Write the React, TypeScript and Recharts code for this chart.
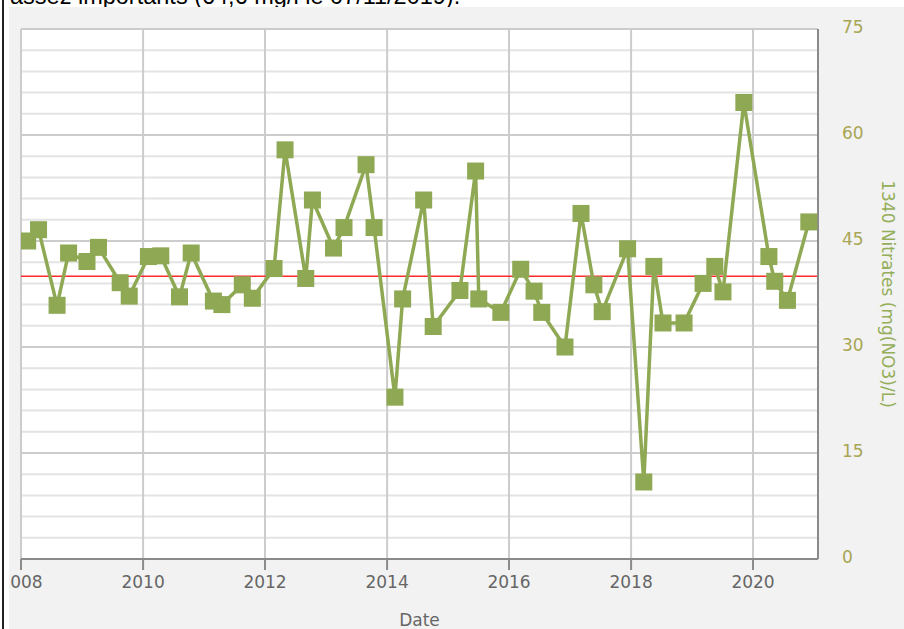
import React from 'react';
import { ComposedChart, Line, XAxis, YAxis, CartesianGrid, ReferenceLine } from 'recharts';

// Sampling dates and nitrate values (mg(NO3)/L)
const sampleDates = [
  '2008-02-10', '2008-04-15', '2008-08-04', '2008-10-12',
  '2009-01-30', '2009-04-09', '2009-08-17', '2009-10-10',
  '2010-02-02', '2010-04-17', '2010-08-07', '2010-10-16',
  '2011-02-26', '2011-04-18', '2011-08-18', '2011-10-17',
  '2012-02-24', '2012-04-30', '2012-09-01', '2012-10-11',
  '2013-02-14', '2013-04-18', '2013-08-28', '2013-10-15',
  '2014-02-17', '2014-04-04', '2014-08-08', '2014-10-04',
  '2015-03-13', '2015-06-15', '2015-07-04', '2015-11-13',
  '2016-03-11', '2016-05-30', '2016-07-15', '2016-12-01',
  '2017-03-07', '2017-05-23', '2017-07-12', '2017-12-11',
  '2018-03-18', '2018-05-17', '2018-07-11', '2018-11-14',
  '2019-03-08', '2019-05-17', '2019-07-05', '2019-11-07',
  '2020-04-05', '2020-05-10', '2020-07-25', '2020-11-30',
];

const nitrateValues = [
  45.0, 46.6, 35.9, 43.3,
  42.1, 44.1, 39.1, 37.2,
  42.8, 42.9, 37.1, 43.3,
  36.5, 36.0, 38.8, 36.9,
  41.1, 57.9, 39.7, 50.8,
  44.0, 46.9, 55.8, 46.9,
  22.9, 36.8, 50.8, 32.9,
  38.0, 54.9, 36.8, 34.9,
  41.0, 37.9, 34.9, 30.0,
  48.9, 38.8, 35.0, 43.9,
  10.9, 41.4, 33.4, 33.4,
  39.0, 41.4, 37.8, 64.6,
  42.8, 39.3, 36.6, 47.7,
];

const yMajorTicks = [0, 15, 30, 45, 60, 75];
const yMinorTicks = [3, 6, 9, 12, 18, 21, 24, 27, 33, 36, 39, 42, 48, 51, 54, 57, 63, 66, 69, 72];
const xTickYears = [2008, 2010, 2012, 2014, 2016, 2018, 2020];
const limitValue = 40;
const xDomainDates = ['2008-01-01', '2021-01-24'];

const headerText = 'assez importants (64,6 mg/l le 07/11/2019).';
const yTitle = '1340 Nitrates (mg(NO3)/L)';
const xTitle = 'Date';

const data = sampleDates.map((d, i) => ({ t: Date.parse(d), v: nitrateValues[i] }));
const xTicks = xTickYears.map((y) => Date.UTC(y, 0, 1));
const xDomain = xDomainDates.map((d) => Date.parse(d));

const SERIES = '#8ea853';
const FONT = 'DejaVu Sans';

const SquareDot = (props: any) => {
  const { cx, cy, key, index } = props;
  if (cx == null || cy == null) return <g key={key ?? index} />;
  const s = 17;
  return <rect key={key ?? `sq-${index}`} x={cx - s / 2} y={cy - s / 2} width={s} height={s} fill={SERIES} />;
};

const YTitleLabel = (props: any) => {
  const vb = props.viewBox || {};
  const cx = vb.x + vb.width - 16;
  const cy = vb.y + vb.height / 2;
  return (
    <text
      x={cx}
      y={cy}
      transform={`rotate(90, ${cx}, ${cy})`}
      textAnchor="middle"
      dominantBaseline="central"
      fill="#95ae5a"
      fontSize={17}
      fontFamily={FONT}
    >
      {yTitle}
    </text>
  );
};

export default function App() {
  return (
    <div style={{ position: 'absolute', left: 0, top: 0, width: 904, height: 629, overflow: 'hidden', background: '#fff' }}>
      <div
        style={{
          position: 'absolute',
          left: 10,
          top: -17,
          fontFamily: 'Liberation Sans, Arial, sans-serif',
          fontSize: 23.5,
          whiteSpace: 'nowrap',
          color: '#000',
        }}
      >
        {headerText}
      </div>
      <div style={{ position: 'absolute', left: 2, top: 0, width: 1.5, height: 629, background: '#222' }} />
      <div
        style={{
          position: 'absolute',
          left: 9,
          top: 7,
          width: 895,
          height: 622,
          overflow: 'hidden',
          background: '#f2f2f2',
        }}
      >
        <div style={{ position: 'absolute', left: -9, top: -7 }}>
          <ComposedChart width={904} height={629} data={data} margin={{ top: 29, right: 0, bottom: 0, left: 21 }}>
            <CartesianGrid
              fill="#ffffff"
              horizontalValues={yMinorTicks}
              vertical={false}
              stroke="#e3e3e3"
              strokeWidth={2}
            />
            <CartesianGrid
              horizontalValues={yMajorTicks}
              verticalValues={xTicks}
              stroke="#cccccc"
              strokeWidth={2}
            />
            <ReferenceLine y={limitValue} stroke="#ff2a2a" strokeWidth={1.5} />
            <XAxis
              dataKey="t"
              type="number"
              scale="time"
              domain={xDomain}
              allowDataOverflow
              ticks={xTicks}
              interval={0}
              tickFormatter={(t: number) => String(new Date(t).getUTCFullYear())}
              tick={{ fill: '#666666', fontSize: 17, fontFamily: FONT }}
              tickSize={11}
              tickMargin={6}
              tickLine={{ stroke: '#8a8a8a', strokeWidth: 2 }}
              axisLine={{ stroke: '#8a8a8a', strokeWidth: 2 }}
              height={70}
              label={{ value: xTitle, position: 'insideBottom', offset: 3, fill: '#666666', fontSize: 17, fontFamily: FONT }}
            />
            <YAxis
              orientation="right"
              type="number"
              domain={[0, 75]}
              ticks={yMajorTicks}
              interval={0}
              width={86}
              tickSize={6}
              tickLine={false}
              tickMargin={18}
              axisLine={{ stroke: '#8a8a8a', strokeWidth: 2 }}
              tick={{ fill: '#a8a553', fontSize: 17, fontFamily: FONT, textAnchor: 'start', dy: -2 }}
              label={<YTitleLabel />}
            />
            <Line
              type="linear"
              dataKey="v"
              stroke={SERIES}
              strokeWidth={3.5}
              dot={SquareDot}
              activeDot={false}
              isAnimationActive={false}
            />
          </ComposedChart>
        </div>
      </div>
    </div>
  );
}
